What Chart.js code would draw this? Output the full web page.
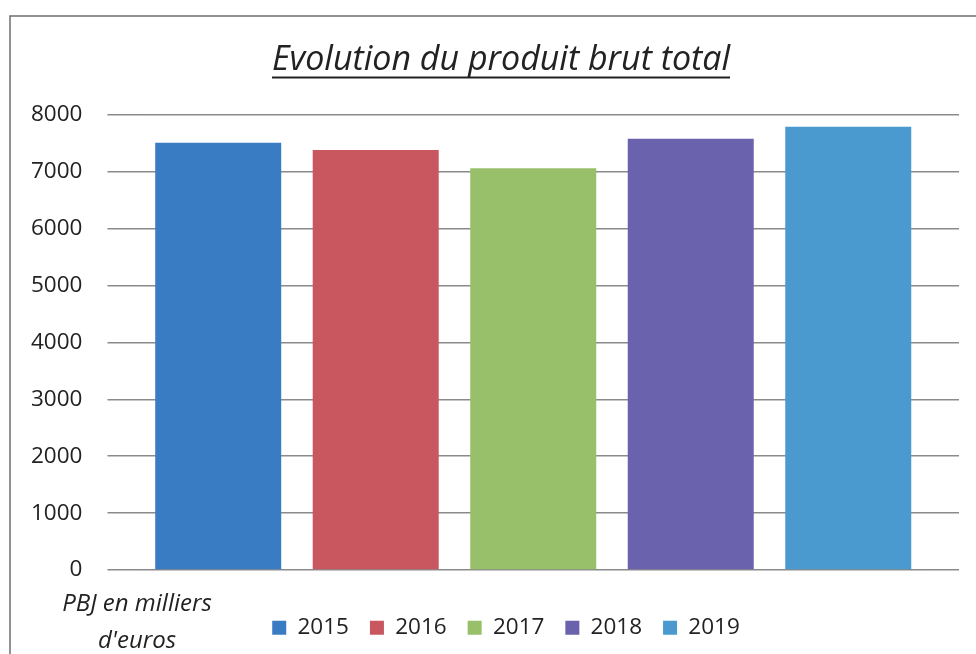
<!DOCTYPE html>
<html>
<head>
<meta charset="utf-8">
<script src="https://cdn.jsdelivr.net/npm/chart.js@4/dist/chart.umd.min.js"></script>
<style>
  html, body { margin: 0; padding: 0; background: #fff; }
  canvas { display: block; }
</style>
</head>
<body>
<canvas id="pbt" width="976" height="654"></canvas>
<script>
const years = ['2015', '2016', '2017', '2018', '2019'];
const produitBrut = [7510, 7380, 7060, 7580, 7790];
const barColors = ['#3a7cc4', '#c9575f', '#98bf6a', '#6a62ac', '#4a9ad0'];
const yTicks = [0, 1000, 2000, 3000, 4000, 5000, 6000, 7000, 8000];

const titleText = 'Evolution du produit brut total';
const unitLines = ['PBJ en milliers', "d'euros"];

const gridColor = '#8a8a8a';
const textColor = '#222';

// frame, legend/title nudges, underline and unit label
const decorations = {
  id: 'decorations',
  beforeDraw(chart) {
    const ctx = chart.ctx;
    ctx.save();
    ctx.strokeStyle = '#6f6f6f';
    ctx.lineWidth = 1.5;
    ctx.strokeRect(10, 16, 1000, 700);
    ctx.restore();
  },
  afterLayout(chart) {
    chart.legend.left += 23.5;
    chart.legend.right += 23.5;
    chart.titleBlock.left += 18.5;
    chart.titleBlock.right += 18.5;
  },
  afterDraw(chart) {
    const ctx = chart.ctx;
    const tb = chart.titleBlock;
    const opts = chart.options.plugins.title;
    const size = opts.font.size;
    const middle = tb.top + opts.padding.top + size * opts.font.lineHeight / 2;
    ctx.save();
    ctx.font = 'italic ' + size + 'px "Open Sans"';
    const w = ctx.measureText(titleText).width;
    const cx = (tb.left + tb.right) / 2;
    ctx.strokeStyle = textColor;
    ctx.lineWidth = 2;
    ctx.beginPath();
    ctx.moveTo(cx - w / 2, middle + size * 0.5);
    ctx.lineTo(cx + w / 2, middle + size * 0.5);
    ctx.stroke();

    ctx.font = 'italic 24px "Open Sans"';
    ctx.fillStyle = textColor;
    ctx.textAlign = 'center';
    ctx.textBaseline = 'middle';
    ctx.fillText(unitLines[0], 137, 604);
    ctx.fillText(unitLines[1], 137, 641);
    ctx.restore();
  },
};

new Chart(document.getElementById('pbt'), {
  type: 'bar',
  data: {
    labels: years,
    datasets: years.map((year, i) => ({
      label: year,
      data: [{ x: year, y: produitBrut[i] }],
      backgroundColor: barColors[i],
      borderWidth: 0,
      grouped: false,
      categoryPercentage: 1,
      barPercentage: 0.8,
    })),
  },
  options: {
    responsive: false,
    animation: false,
    layout: {
      padding: { left: 6, right: 17, top: 20, bottom: 5 },
    },
    scales: {
      x: {
        ticks: { display: false },
        grid: { display: false },
        border: { display: false },
        afterFit: (scale) => {
          scale.height = 25.5;
        },
      },
      y: {
        min: 0,
        max: 8000,
        afterBuildTicks: (scale) => {
          scale.ticks = yTicks.map((v) => ({ value: v }));
        },
        ticks: {
          padding: 25,
          color: textColor,
          font: { family: '"Open Sans"', size: 22.5 },
          callback: (value) => String(value),
        },
        grid: {
          color: gridColor,
          lineWidth: 1.5,
          tickLength: 32,
          tickColor: gridColor,
        },
        border: { display: false },
      },
      y2: {
        position: 'right',
        min: 0,
        max: 8000,
        afterBuildTicks: (scale) => {
          scale.ticks = yTicks.map((v) => ({ value: v }));
        },
        ticks: { display: false },
        grid: {
          drawOnChartArea: false,
          color: gridColor,
          lineWidth: 1.5,
          tickLength: 32,
        },
        border: { display: false },
      },
    },
    plugins: {
      title: {
        display: true,
        text: titleText,
        color: textColor,
        font: { family: '"Open Sans"', size: 34, style: 'italic', weight: 'normal', lineHeight: 1.2 },
        padding: { top: 20, bottom: 34 },
      },
      legend: {
        position: 'bottom',
        labels: {
          boxWidth: 14,
          boxHeight: 14,
          padding: 21,
          color: textColor,
          font: { family: '"Open Sans"', size: 22.5 },
        },
      },
      tooltip: { enabled: false },
    },
  },
  plugins: [decorations],
});
</script>
</body>
</html>
